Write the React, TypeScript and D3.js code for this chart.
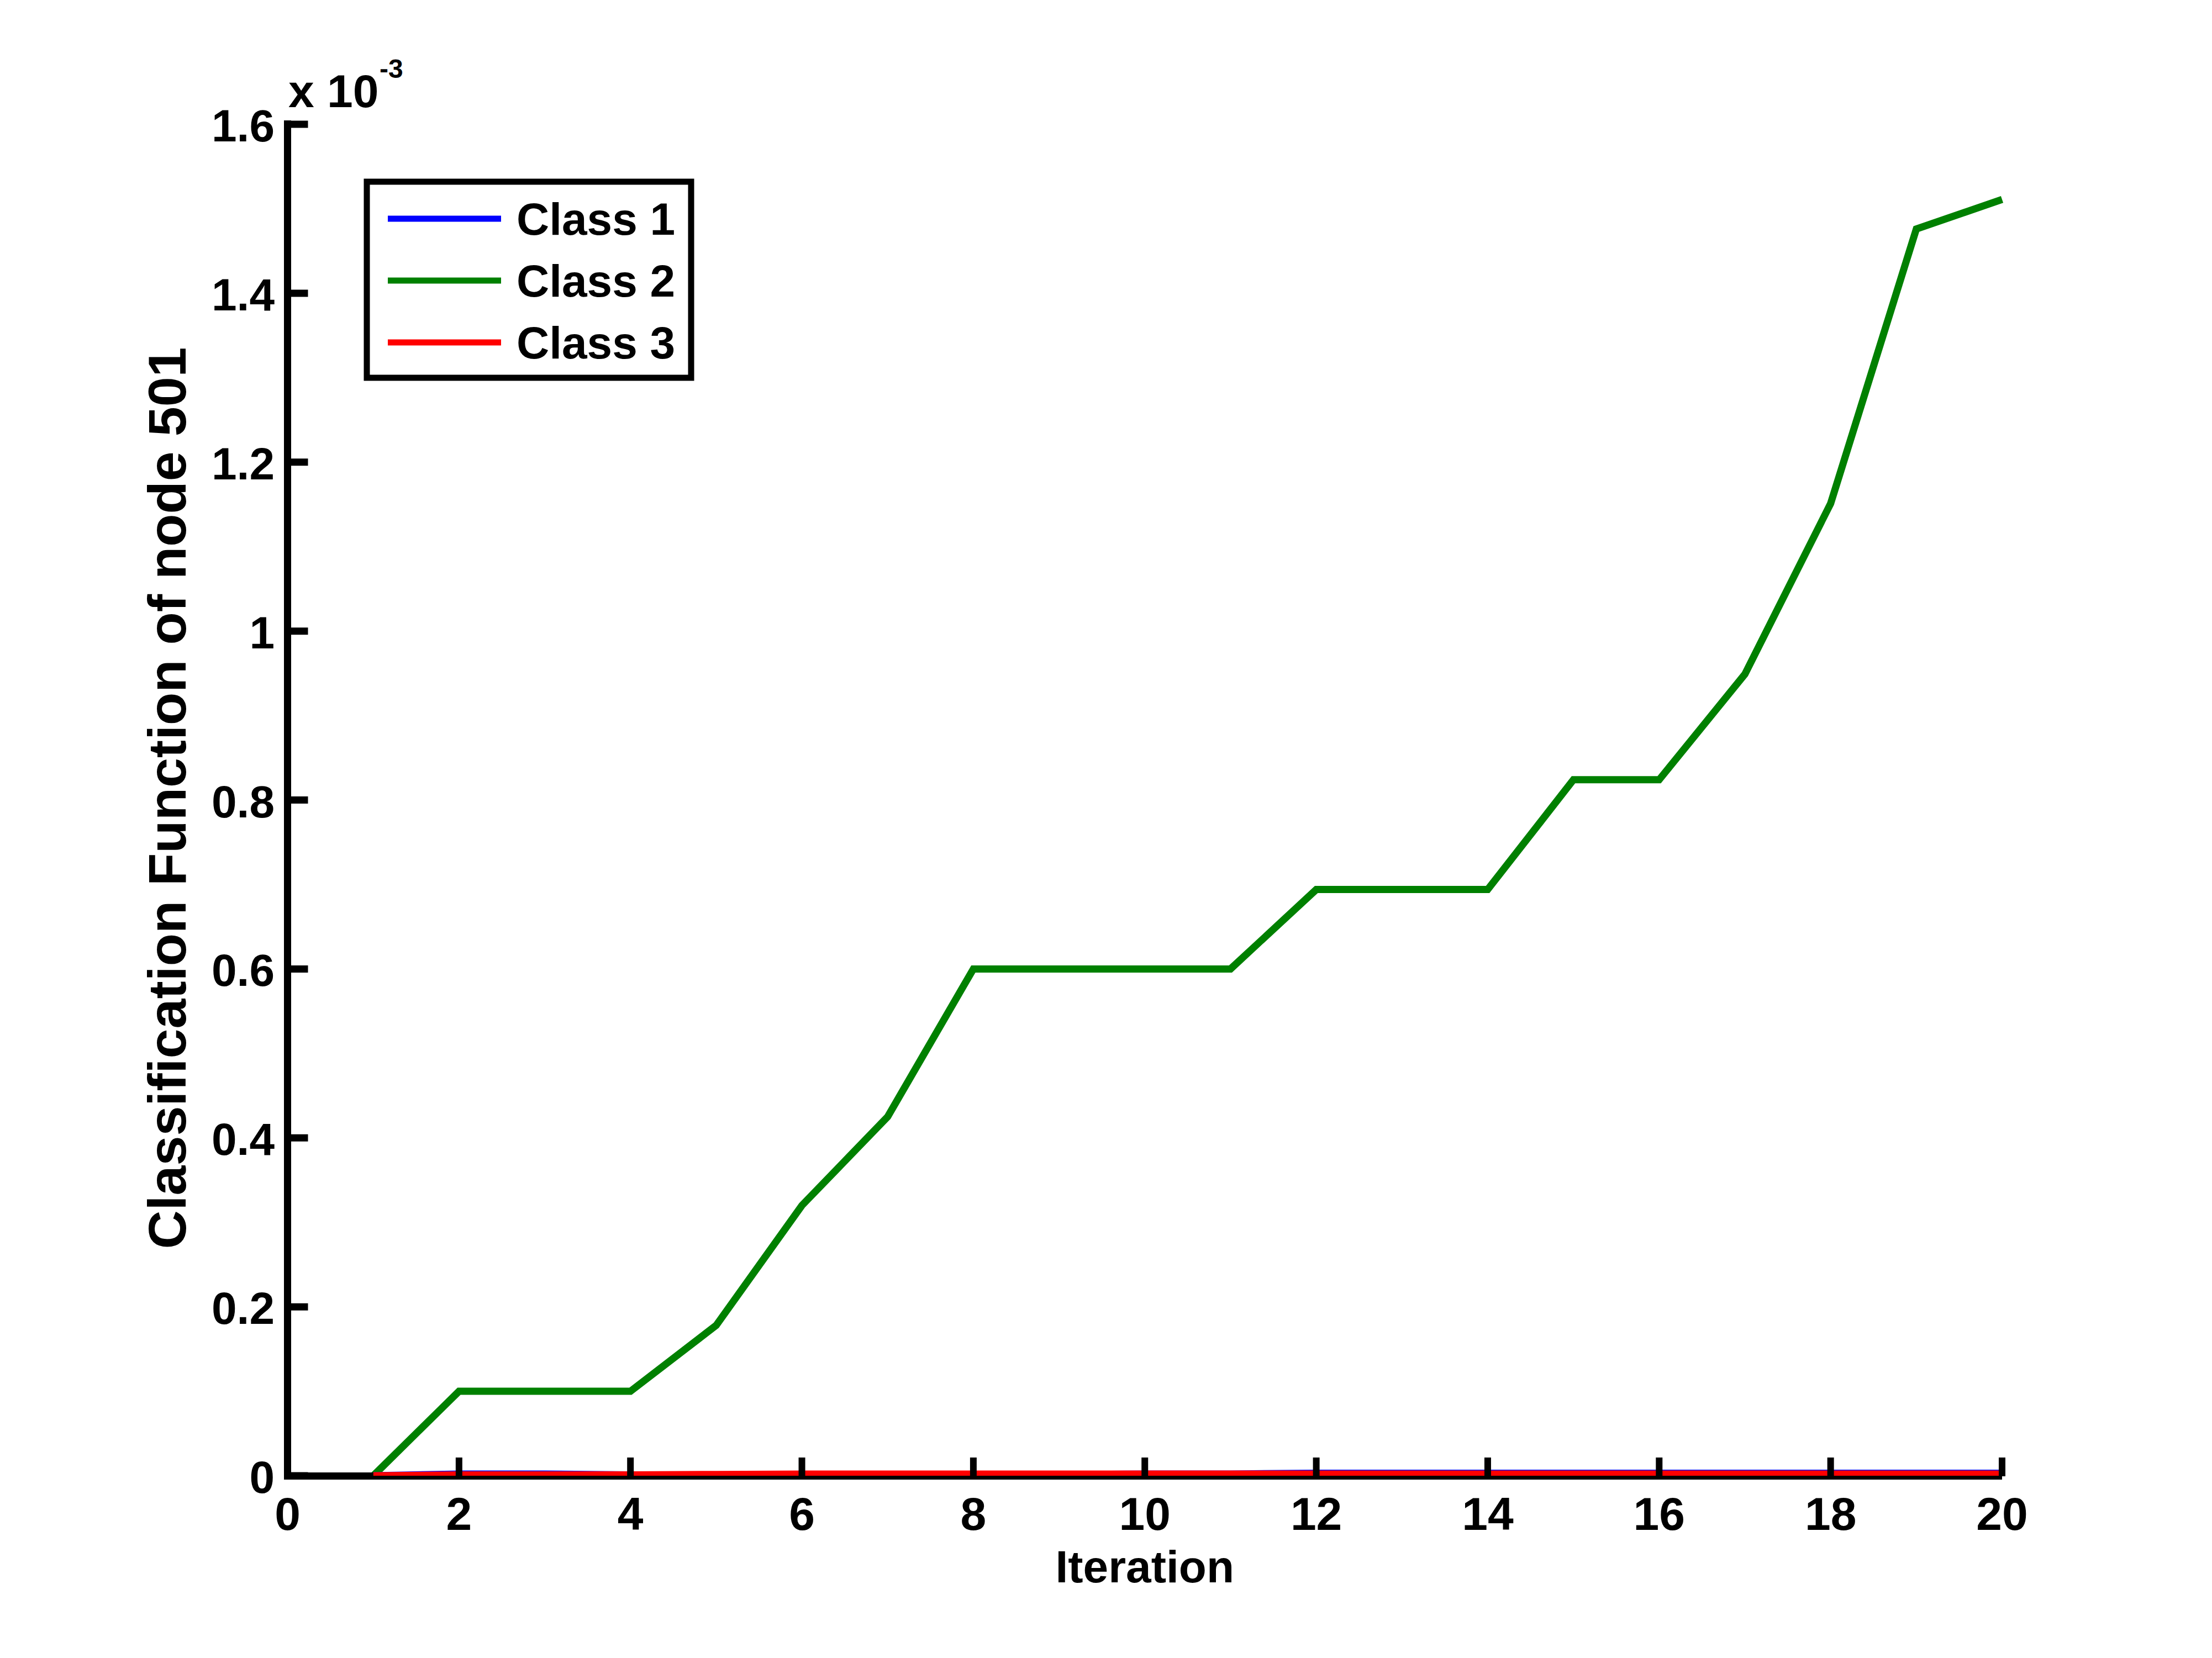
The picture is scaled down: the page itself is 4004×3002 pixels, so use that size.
import React from "react";
import * as d3 from "d3";

const iterations = [1, 2, 3, 4, 5, 6, 7, 8, 9, 10, 11, 12, 13, 14, 15, 16, 17, 18, 19, 20];
const class1 = [0, 0.002, 0.002, 0.001, 0.001, 0.0005, 0.0005, 0.001, 0.001, 0.002, 0.002, 0.003, 0.003, 0.003, 0.003, 0.003, 0.003, 0.003, 0.003, 0.003];
const class2 = [0, 0.1, 0.1, 0.1, 0.178, 0.32, 0.425, 0.6, 0.6, 0.6, 0.6, 0.694, 0.694, 0.694, 0.824, 0.824, 0.949, 1.151, 1.476, 1.511];
const class3 = [0, 0.001, 0.001, 0.001, 0.0015, 0.002, 0.002, 0.002, 0.002, 0.002, 0.002, 0.002, 0.002, 0.002, 0.002, 0.002, 0.002, 0.002, 0.002, 0.002];
const seriesNames = ["Class 1", "Class 2", "Class 3"];
const seriesColors = ["#0000ff", "#008000", "#ff0000"];
const xTicks = [0, 2, 4, 6, 8, 10, 12, 14, 16, 18, 20];
const yTicks = [0, 0.2, 0.4, 0.6, 0.8, 1, 1.2, 1.4, 1.6];
const yTickLabels = ["0", "0.2", "0.4", "0.6", "0.8", "1", "1.2", "1.4", "1.6"];
const xLabel = "Iteration";
const yLabel = "Classification Function of node 501";

const W = 4004;
const H = 3002;
const L = 520.5, R = 3624, T = 225, B = 2672;
const FONT = "'Liberation Sans', Arial, Helvetica, sans-serif";

export default function App() {
  const x = d3.scaleLinear().domain([0, 20]).range([L, R]);
  const y = d3.scaleLinear().domain([0, 1.6]).range([B, T]);
  const data = [class1, class2, class3];
  const line = d3
    .line<number>()
    .x((_, i) => x(iterations[i]))
    .y((d) => y(d));
  const tickLen = 33;
  const axisW = 13;

  return (
    <svg
      width={W}
      height={H}
      style={{ position: "absolute", left: 0, top: 0, background: "#fff" }}
      fontFamily={FONT}
      fontWeight="bold"
    >
      <rect x={0} y={0} width={W} height={H} fill="#fff" />
      {/* data lines */}
      {[1, 0, 2].map((k) => (
        <path
          key={k}
          d={line(data[k]) || ""}
          fill="none"
          stroke={seriesColors[k]}
          strokeWidth={13}
          strokeLinejoin="miter"
        />
      ))}
      {/* axes */}
      <line x1={L} x2={L} y1={B + 7} y2={T - 7} stroke="#000" strokeWidth={axisW} />
      <rect x={L - axisW / 2} y={B} width={R - L + axisW / 2} height={7} fill="#000" />
      <rect x={L - axisW / 2} y={B - 6} width={x(1) - L + axisW / 2} height={13} fill="#000" />
      {/* x ticks */}
      {xTicks.map((t) => (
        <g key={"x" + t}>
          <line x1={x(t)} x2={x(t)} y1={B + 1} y2={B - tickLen} stroke="#000" strokeWidth={12} />
          <text x={x(t)} y={2770} textAnchor="middle" fontSize={84}>
            {t}
          </text>
        </g>
      ))}
      {/* y ticks */}
      {yTicks.map((t, i) => (
        <g key={"y" + t}>
          <line x1={L} x2={L + tickLen + 4} y1={y(t)} y2={y(t)} stroke="#000" strokeWidth={axisW} />
          <text x={497} y={y(t) + 31} textAnchor="end" fontSize={82}>
            {yTickLabels[i]}
          </text>
        </g>
      ))}
      {/* exponent */}
      <text x={522} y={194} fontSize={84}>
        x 10
      </text>
      <text x={687} y={141} fontSize={48}>
        -3
      </text>
      {/* axis labels */}
      <text x={(L + R) / 2} y={2865} textAnchor="middle" fontSize={82}>
        {xLabel}
      </text>
      <text
        transform={`translate(336,1445) rotate(-90)`}
        textAnchor="middle"
        fontSize={97}
      >
        {yLabel}
      </text>
      {/* legend */}
      <rect x={664} y={329} width={587} height={355} fill="#fff" stroke="#000" strokeWidth={11} />
      {seriesNames.map((n, i) => (
        <g key={n}>
          <line x1={702} x2={907} y1={396 + i * 112} y2={396 + i * 112} stroke={seriesColors[i]} strokeWidth={11} />
          <text x={935} y={396 + i * 112 + 29} fontSize={82}>
            {n}
          </text>
        </g>
      ))}
    </svg>
  );
}
